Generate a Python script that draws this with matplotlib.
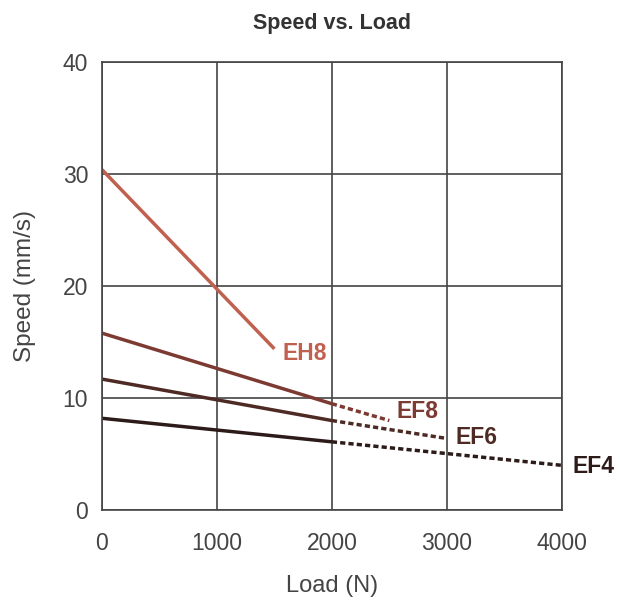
import matplotlib
matplotlib.use("Agg")
import matplotlib.pyplot as plt

plt.rcParams['font.family'] = ['Liberation Sans', 'DejaVu Sans']

# data
eh8_load = [0, 1500]
eh8_speed = [30.4, 14.4]

ef8_load = [0, 2000]
ef8_speed = [15.8, 9.5]
ef8_ext_load = [2000, 2500]
ef8_ext_speed = [9.5, 8.0]

ef6_load = [0, 2000]
ef6_speed = [11.7, 8.0]
ef6_ext_load = [2000, 3000]
ef6_ext_speed = [8.0, 6.4]

ef4_load = [0, 2000]
ef4_speed = [8.2, 6.1]
ef4_ext_load = [2000, 4000]
ef4_ext_speed = [6.1, 4.0]

x_ticks = [0, 1000, 2000, 3000, 4000]
y_ticks = [0, 10, 20, 30, 40]

c_eh8 = '#c0604f'
c_ef8 = '#7d3a33'
c_ef6 = '#4e2a24'
c_ef4 = '#2c1b18'

fig = plt.figure(figsize=(6.2, 6.03), dpi=100)
ax = fig.add_axes([0.1645, 0.154, 0.7415, 0.743])

lw = 2.5
dash = (0, (1.5, 0.9))
ax.plot(eh8_load, eh8_speed, color=c_eh8, lw=lw, solid_capstyle='butt')
ax.plot(ef8_load, ef8_speed, color=c_ef8, lw=lw, solid_capstyle='butt')
ax.plot(ef8_ext_load, ef8_ext_speed, color=c_ef8, lw=lw, ls=dash)
ax.plot(ef6_load, ef6_speed, color=c_ef6, lw=lw, solid_capstyle='butt')
ax.plot(ef6_ext_load, ef6_ext_speed, color=c_ef6, lw=lw, ls=dash)
ax.plot(ef4_load, ef4_speed, color=c_ef4, lw=lw, solid_capstyle='butt')
ax.plot(ef4_ext_load, ef4_ext_speed, color=c_ef4, lw=lw, ls=dash)

lbl = dict(fontsize=16.5, fontweight='bold', va='center', clip_on=False)
ax.text(1570, 14.0, 'EH8', color=c_eh8, **lbl)
ax.text(2560, 8.8, 'EF8', color=c_ef8, **lbl)
ax.text(3080, 6.5, 'EF6', color=c_ef6, **lbl)
ax.text(4090, 3.9, 'EF4', color=c_ef4, **lbl)

ax.set_xlim(0, 4000)
ax.set_ylim(0, 40)
ax.set_xticks(x_ticks)
ax.set_yticks(y_ticks)
ax.grid(True, color='#444444', lw=1.2)
for s in ax.spines.values():
    s.set_color('#444444')
    s.set_linewidth(1.2)
ax.tick_params(axis='x', length=0, pad=16, labelsize=16.5, labelcolor='#444444')
ax.tick_params(axis='y', length=0, pad=10, labelsize=16.5, labelcolor='#444444')

ax.set_title('Speed vs. Load', fontsize=15.5, fontweight='bold', color='#333333', pad=24)
ax.set_xlabel('Load (N)', fontsize=17, color='#444444', labelpad=14)
ax.set_ylabel('Speed (mm/s)', fontsize=17.5, color='#444444', labelpad=19)

fig.savefig('out.png', dpi=100)
